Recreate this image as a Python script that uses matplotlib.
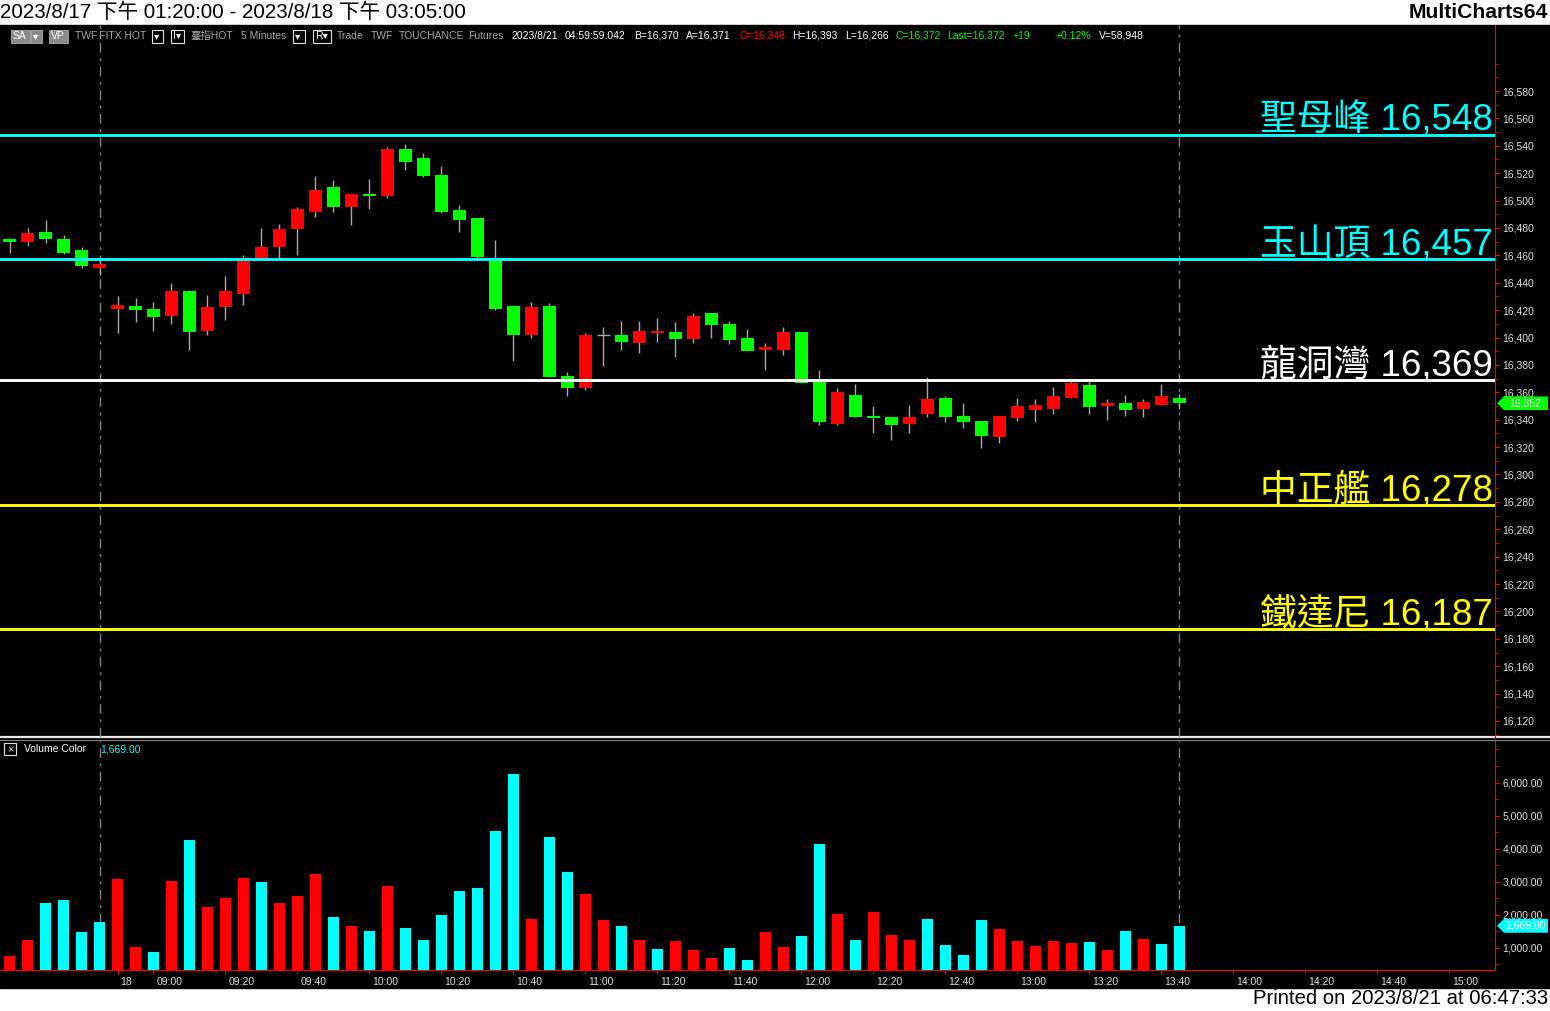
import matplotlib
matplotlib.use("Agg")
import matplotlib.pyplot as plt
import matplotlib.transforms as mtransforms
from matplotlib.patches import Rectangle, Polygon
import pandas as pd

plt.rcParams["font.family"] = ["Liberation Sans", "Noto Sans CJK TC", "DejaVu Sans"]

# ---------------- data ----------------
prev_times = pd.date_range("2023-08-17 13:20", "2023-08-17 13:45", freq="5min")
day_times = pd.date_range("2023-08-18 08:50", "2023-08-18 13:45", freq="5min")
bar_times = list(prev_times) + list(day_times)

opens = [16472, 16470, 16477, 16472, 16464, 16451, 16421, 16423, 16421, 16416,
         16434, 16405, 16422, 16432, 16457, 16466, 16479, 16492, 16510, 16495,
         16505, 16503, 16538, 16531, 16519, 16493, 16487, 16458, 16423, 16402,
         16423, 16372, 16363, 16402, 16402, 16396, 16403, 16404, 16399, 16418,
         16410, 16400, 16391, 16391, 16404, 16368, 16337, 16358, 16343, 16342,
         16337, 16344, 16356, 16343, 16339, 16327, 16341, 16347, 16348, 16356,
         16365, 16350, 16352, 16348, 16351, 16356]
highs = [16473, 16480, 16486, 16475, 16466, 16459, 16430, 16429, 16426, 16440,
         16435, 16431, 16445, 16460, 16480, 16483, 16495, 16518, 16515, 16505,
         16516, 16539, 16541, 16535, 16525, 16497, 16487, 16471, 16424, 16426,
         16425, 16375, 16403, 16408, 16412, 16412, 16414, 16411, 16418, 16418,
         16412, 16406, 16396, 16408, 16404, 16376, 16363, 16366, 16350, 16343,
         16351, 16371, 16357, 16352, 16339, 16343, 16356, 16355, 16364, 16368,
         16368, 16355, 16358, 16355, 16366, 16359]
lows = [16462, 16467, 16469, 16461, 16451, 16446, 16403, 16411, 16405, 16410,
        16391, 16402, 16413, 16424, 16457, 16457, 16460, 16488, 16492, 16482,
        16494, 16502, 16522, 16517, 16491, 16477, 16458, 16420, 16383, 16400,
        16371, 16357, 16362, 16379, 16391, 16389, 16397, 16386, 16396, 16400,
        16395, 16390, 16376, 16387, 16367, 16336, 16336, 16342, 16330, 16325,
        16330, 16342, 16338, 16334, 16319, 16323, 16339, 16338, 16344, 16356,
        16344, 16340, 16343, 16342, 16351, 16348]
closes = [16470, 16476, 16472, 16462, 16452, 16454, 16424, 16420, 16415, 16434,
          16404, 16422, 16434, 16458, 16466, 16479, 16494, 16508, 16495, 16505,
          16503, 16538, 16528, 16518, 16492, 16486, 16459, 16421, 16402, 16422,
          16371, 16363, 16402, 16402, 16397, 16405, 16405, 16399, 16416, 16409,
          16398, 16390, 16393, 16404, 16367, 16338, 16360, 16342, 16341, 16336,
          16342, 16355, 16342, 16338, 16328, 16343, 16350, 16351, 16357, 16367,
          16349, 16352, 16347, 16353, 16357, 16352]
volumes = [756, 1240, 2359, 2449, 1482, 1784, 3084, 1028, 877, 3024,
           4264, 2238, 2510, 3115, 2994, 2359, 2570, 3236, 1935, 1663,
           1512, 2873, 1603, 1240, 1996, 2721, 2812, 4536, 6259, 1875,
           4354, 3296, 2631, 1845, 1663, 1240, 968, 1210, 937, 696,
           998, 635, 1482, 1028, 1361, 4143, 2026, 1240, 2087, 1391,
           1240, 1875, 1089, 786, 1845, 1572, 1210, 1058, 1210, 1149,
           1179, 937, 1512, 1270, 1119, 1669]
vol_up = "rrccccrrcrcrrrcrrrcrcrcccccccrccrrcrcrrrccrrccrcrrrccccrrrrrcrcrcc"

levels = [16548, 16457, 16369, 16278, 16187]
level_names = ["聖母峰", "玉山頂", "龍洞灣", "中正艦", "鐵達尼"]
level_colors = ["#00ffff", "#00ffff", "#ffffff", "#ffff00", "#ffff00"]

last_price = 16352
last_volume = 1669
session_end_bars = [5, 65]

x_labels = ["18", "09:00", "09:20", "09:40", "10:00", "10:20", "10:40", "11:00",
            "11:20", "11:40", "12:00", "12:20", "12:40", "13:00", "13:20", "13:40",
            "14:00", "14:20", "14:40", "15:00"]

# ---------------- layout ----------------
W, H = 1550, 1011
fig = plt.figure(figsize=(W / 100, H / 100), dpi=100, facecolor="white")

bg = fig.add_axes([0, 0, 1, 1], zorder=0)
bg.set_xlim(0, W); bg.set_ylim(H, 0); bg.axis("off")
bg.add_patch(Rectangle((0, 25), W, 963, color="black"))
bg.plot([0, W], [737, 737], color="#e8e8e8", lw=1.6)
bg.plot([0, W], [739.5, 739.5], color="#808080", lw=0.8)

ax = fig.add_axes([0, 1 - 737 / H, 1495 / W, (737 - 25) / H], zorder=1)
axv = fig.add_axes([0, 1 - 970 / H, 1495 / W, (970 - 741) / H], zorder=1)
for a in (ax, axv):
    a.set_facecolor("none")
    for s in a.spines.values():
        s.set_visible(False)
    a.spines["right"].set_visible(True)
    a.spines["right"].set_color("#ff0000")
    a.yaxis.tick_right()
    a.tick_params(axis="y", which="both", colors="#ff0000", labelcolor="#e0e0e0",
                  labelsize=7.5, length=3, pad=2.5)
    a.tick_params(axis="y", which="minor", length=2)
    a.set_xlim(-0.528, 82.53)

ax.set_ylim(16108.3, 16628.2)
axv.set_ylim(333, 7257)

# ---------------- candles ----------------
x = list(range(len(bar_times)))
for i in x:
    o, h, l, c = opens[i], highs[i], lows[i], closes[i]
    ax.vlines(i, l, h, color="#a8a8a8", lw=1.0, zorder=2)
    if c == o:
        ax.hlines(c, i - 0.36, i + 0.36, color="#a8a8a8", lw=1.0, zorder=3)
    else:
        col = "#ff0000" if c > o else "#00ff00"
        ax.bar(i, abs(c - o), bottom=min(o, c), width=0.72, color=col, lw=0, zorder=3)

for lv, nm, col in zip(levels, level_names, level_colors):
    ax.axhline(lv, color=col, lw=2.1, zorder=4)
    trans = mtransforms.blended_transform_factory(ax.transAxes, ax.transData)
    ax.text(1493 / 1495, lv + 3.2, f"{nm} {lv:,}", transform=trans, ha="right",
            va="baseline", fontsize=26.5, fontweight="light", color=col, zorder=5)

ax.set_xticks([])
ax.set_yticks(range(16120, 16581, 20))
ax.set_yticklabels([f"{v:,}" for v in range(16120, 16581, 20)])
ax.set_yticks(range(16110, 16601, 10), minor=True)

# ---------------- volume ----------------
vcols = ["#ff0000" if u == "r" else "#00ffff" for u in vol_up]
axv.bar(x, volumes, width=0.61, color=vcols, lw=0, zorder=3)
axv.spines["bottom"].set_visible(True)
axv.spines["bottom"].set_color("#ff0000")
axv.set_yticks(range(1000, 6001, 1000))
axv.set_yticklabels([f"{v:,.2f}" for v in range(1000, 6001, 1000)])
axv.set_yticks(range(500, 7001, 500), minor=True)

n_prev = len(prev_times)
t0 = day_times[0]
tick_pos = []
for lab in x_labels:
    if ":" not in lab:
        tick_pos.append(n_prev)
    else:
        t = pd.Timestamp(f"2023-08-18 {lab}")
        tick_pos.append(n_prev + (t - t0).total_seconds() / 300)
axv.set_xticks(tick_pos)
axv.set_xticklabels(x_labels)
axv.tick_params(axis="x", colors="#ff0000", labelcolor="#e0e0e0", labelsize=7.5,
                length=3, pad=2)
off = mtransforms.ScaledTranslation(2 / 72, 0, fig.dpi_scale_trans)
for lab in axv.get_xticklabels():
    lab.set_ha("left")
    lab.set_transform(lab.get_transform() + off)

for a in (ax, axv):
    for b in session_end_bars:
        a.axvline(b, color="#808080", lw=1.0, ls=(0, (7, 4, 2, 4)), zorder=1)

# ---------------- price / volume markers ----------------
def marker(a, val, half, text, fc):
    tr = mtransforms.blended_transform_factory(fig.transFigure, a.transData)
    pts = [(1497 / W, val), (1504 / W, val + half), (1548 / W, val + half),
           (1548 / W, val - half), (1504 / W, val - half)]
    a.add_patch(Polygon(pts, closed=True, transform=tr, fc=fc, ec="none",
                        clip_on=False, zorder=6))
    a.text(1525 / W, val, text, transform=tr, ha="center", va="center",
           fontsize=7.5, color="#ffffff", zorder=7, clip_on=False)

marker(ax, last_price, 5.0, f"{last_price:,}", "#00ff00")
marker(axv, last_volume, 210, f"{last_volume:,.2f}", "#00ffff")

# ---------------- header / footer text ----------------
top = fig.add_axes([0, 0, 1, 1], zorder=3)
top.set_xlim(0, W); top.set_ylim(H, 0); top.axis("off")
top.set_facecolor("none")

top.text(0, 12.5, "2023/8/17 下午 01:20:00 - 2023/8/18 下午 03:05:00", fontsize=14.8,
         va="center", ha="left", color="black")
top.text(1548, 12.5, "MultiCharts64", fontsize=15.2, fontweight="bold", va="center",
         ha="right", color="black")
top.text(1548, 999, "Printed on 2023/8/21 at 06:47:33", fontsize=14.6, va="center",
         ha="right", color="black")

hy = 36
for x0, x1 in [(11, 30), (31, 42), (49, 68)]:
    top.add_patch(Rectangle((x0, hy - 6.5), x1 - x0, 13, fc="#8a8a8a", ec="#b0b0b0", lw=0.6))
for x0, x1 in [(152, 163), (171, 184), (293, 305), (313, 331)]:
    top.add_patch(Rectangle((x0, hy - 6.5), x1 - x0, 13, fc="black", ec="#e0e0e0", lw=0.8))

header = [(13, "SA", "#ffffff"), (33, "▾", "#ffffff"), (51, "VP", "#ffffff"),
          (75, "TWF.FITX HOT", "#a8a8a8"), (154, "▾", "#ffffff"), (173, "I▾", "#ffffff"),
          (190, "臺指HOT", "#a8a8a8"), (241, "5 Minutes", "#a8a8a8"), (295, "▾", "#ffffff"),
          (315, "R▾", "#ffffff"), (337, "Trade", "#a8a8a8"), (371, "TWF", "#a8a8a8"),
          (399, "TOUCHANCE", "#a8a8a8"), (468, "Futures", "#a8a8a8"),
          (511, "2023/8/21", "#ffffff"), (565, "04:59:59.042", "#ffffff"),
          (634, "B=16,370", "#ffffff"), (686, "A=16,371", "#ffffff"),
          (740, "O=16,348", "#ff0000"), (792, "H=16,393", "#ffffff"),
          (845, "L=16,266", "#ffffff"), (895, "C=16,372", "#00ff00"),
          (947, "Last=16,372", "#00ff00"), (1013, "+19", "#00ff00"),
          (1056, "+0.12%", "#00ff00"), (1099, "V=58,948", "#ffffff")]
for hx, txt, col in header:
    top.text(hx, hy, txt, fontsize=7.5, color=col, va="center", ha="left")

# volume pane legend
top.add_patch(Rectangle((4, 743), 12, 12, fc="black", ec="#e0e0e0", lw=0.8))
top.text(10, 749, "×", fontsize=8, color="#e0e0e0", ha="center", va="center")
top.text(24, 749, "Volume Color", fontsize=7.5, color="#ffffff", va="center", ha="left")
top.text(100, 749, f"{last_volume:,.2f}", fontsize=7.5, color="#00ffff", va="center", ha="left")

fig.savefig("out.png", dpi=100, facecolor="white")
